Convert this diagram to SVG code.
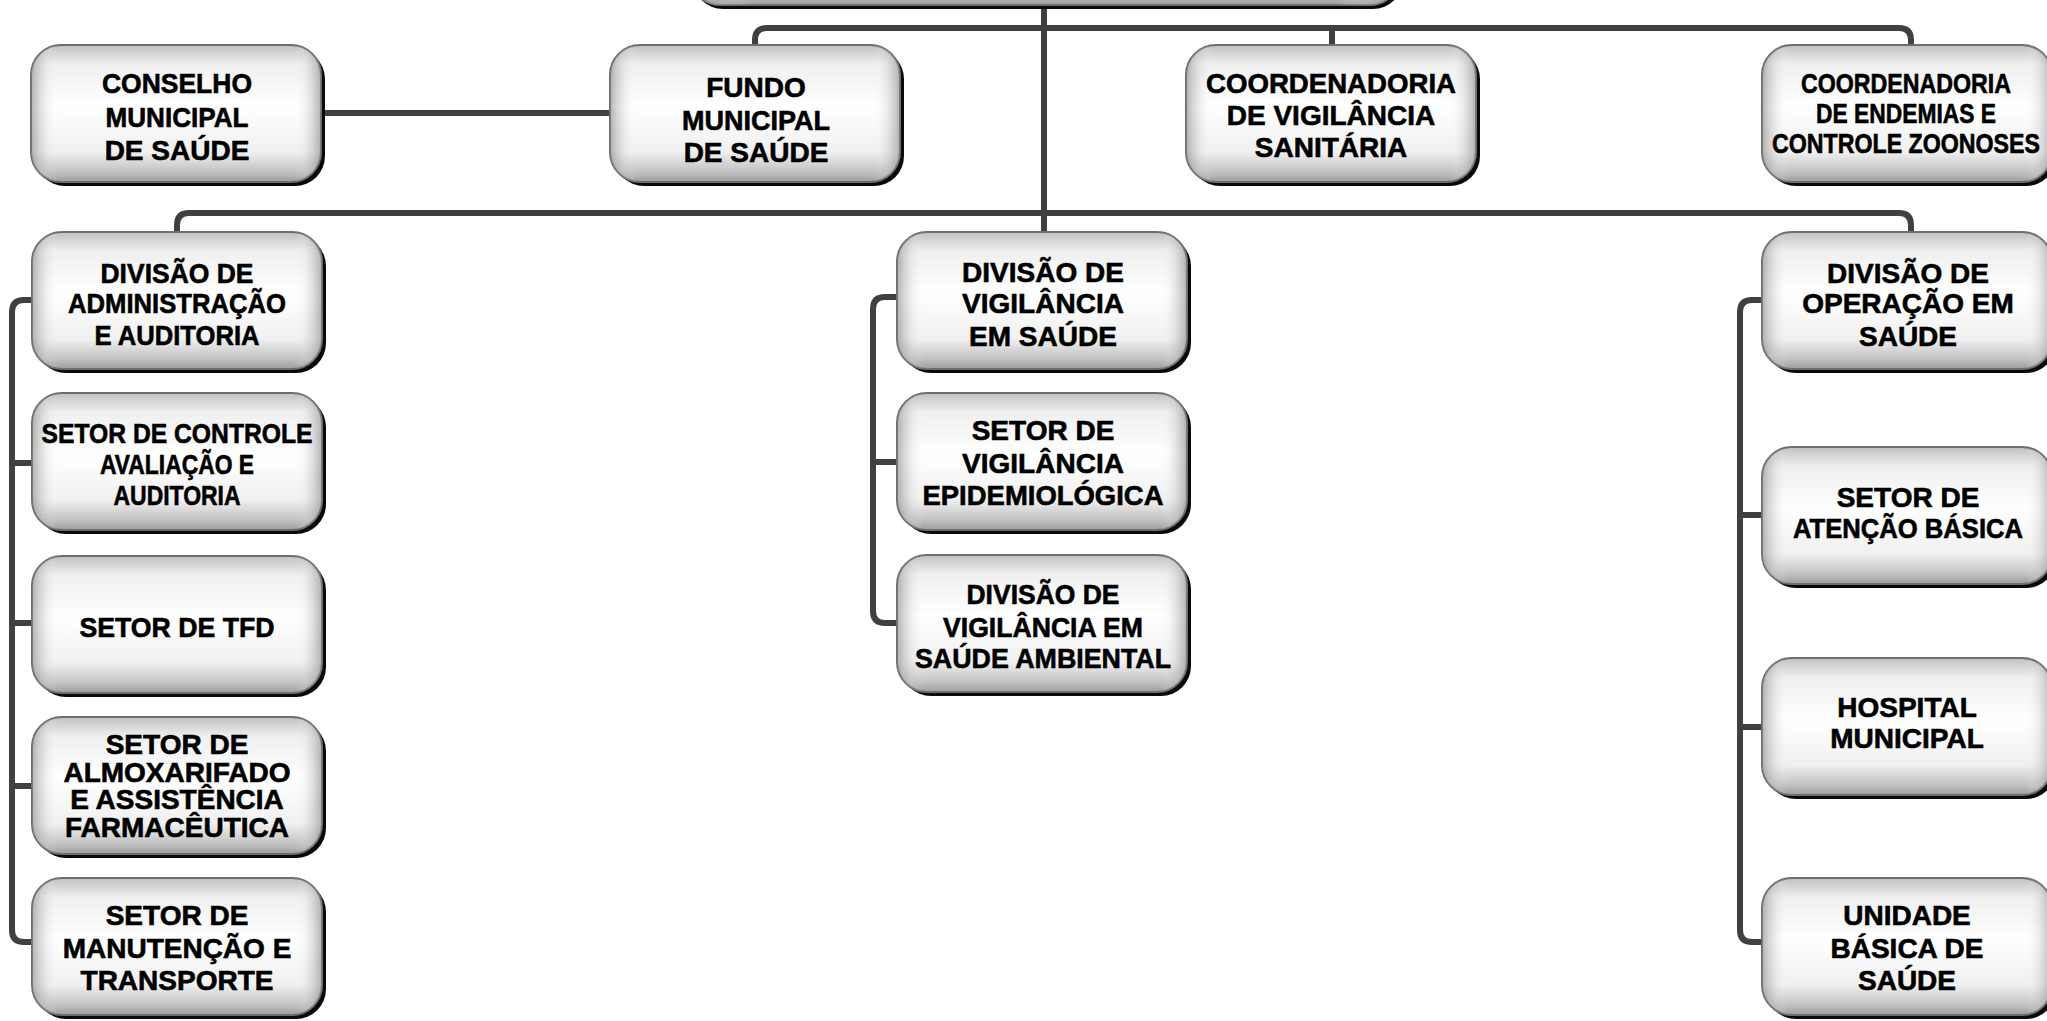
<svg xmlns="http://www.w3.org/2000/svg" width="2047" height="1021" viewBox="0 0 2047 1021">
<defs>
<linearGradient id="gv" x1="0" y1="0" x2="0" y2="1">
<stop offset="0" stop-color="#c0c0c0"/>
<stop offset="0.14" stop-color="#efefef"/>
<stop offset="0.45" stop-color="#ffffff"/>
<stop offset="0.78" stop-color="#f0f0f0"/>
<stop offset="0.92" stop-color="#c4c4c4"/>
<stop offset="1" stop-color="#9e9e9e"/>
</linearGradient>
<linearGradient id="gh" x1="0" y1="0" x2="1" y2="0">
<stop offset="0" stop-color="#808080" stop-opacity="0.6"/>
<stop offset="0.09" stop-color="#ffffff" stop-opacity="0"/>
<stop offset="0.91" stop-color="#ffffff" stop-opacity="0"/>
<stop offset="1" stop-color="#808080" stop-opacity="0.6"/>
</linearGradient>
</defs>
<style>
.sh{fill:#0a0a0a}
.bx{fill:url(#gv);stroke:#6e6e6e;stroke-width:2}
.hl{fill:url(#gh);stroke:none}
.t{font-family:"Liberation Sans",Arial,sans-serif;font-weight:bold;font-size:28px;fill:#000;stroke:#000;stroke-width:0.6;text-anchor:middle}
.c{fill:none;stroke:#404040;stroke-width:6}
</style>
<rect width="2047" height="1021" fill="#ffffff"/>

<g id="connectors">
<path class="c" d="M1044,5 V232"/>
<path class="c" d="M755,45 V40 Q755,28 767,28 H1899 Q1911,28 1911,40 V45"/>
<path class="c" d="M1332,28 V45"/>
<path class="c" d="M322,113 H610"/>
<path class="c" d="M177,232 V225 Q177,213 189,213 H1899 Q1911,213 1911,225 V232"/>
<path class="c" d="M32,300 H24 Q12,300 12,312 V930 Q12,942 24,942 H32"/>
<path class="c" d="M12,463 H32 M12,623 H32 M12,786 H32"/>
<path class="c" d="M897,297 H885 Q873,297 873,309 V611 Q873,623 885,623 H897"/>
<path class="c" d="M873,462 H897"/>
<path class="c" d="M1762,300 H1752 Q1740,300 1740,312 V930 Q1740,942 1752,942 H1762"/>
<path class="c" d="M1740,515 H1762 M1740,727 H1762"/>
</g>

<g id="n-root">
<rect class="sh" x="693" y="-131" width="710" height="140" rx="30"/>
<rect class="bx" x="690" y="-135" width="710" height="140" rx="30"/>
<rect class="hl" x="690" y="-135" width="710" height="140" rx="30"/>
</g>

<g id="n-conselho">
<rect class="sh" x="35" y="49" width="290" height="137" rx="30"/>
<rect class="bx" x="31" y="45" width="290" height="137" rx="30"/>
<rect class="hl" x="31" y="45" width="290" height="137" rx="30"/>
<text class="t" x="177" y="93" textLength="150" lengthAdjust="spacingAndGlyphs">CONSELHO</text>
<text class="t" x="177" y="127" textLength="143" lengthAdjust="spacingAndGlyphs">MUNICIPAL</text>
<text class="t" x="177" y="160">DE SAÚDE</text>
</g>

<g id="n-fundo">
<rect class="sh" x="614" y="49" width="290" height="137" rx="30"/>
<rect class="bx" x="610" y="45" width="290" height="137" rx="30"/>
<rect class="hl" x="610" y="45" width="290" height="137" rx="30"/>
<text class="t" x="756" y="97">FUNDO</text>
<text class="t" x="756" y="130" textLength="148" lengthAdjust="spacingAndGlyphs">MUNICIPAL</text>
<text class="t" x="756" y="162">DE SAÚDE</text>
</g>

<g id="n-vigsan">
<rect class="sh" x="1190" y="49" width="290" height="137" rx="30"/>
<rect class="bx" x="1186" y="45" width="290" height="137" rx="30"/>
<rect class="hl" x="1186" y="45" width="290" height="137" rx="30"/>
<text class="t" x="1331" y="93" textLength="250" lengthAdjust="spacingAndGlyphs">COORDENADORIA</text>
<text class="t" x="1331" y="125">DE VIGILÂNCIA</text>
<text class="t" x="1331" y="157">SANITÁRIA</text>
</g>

<g id="n-endemias">
<rect class="sh" x="1766" y="49" width="290" height="137" rx="30"/>
<rect class="bx" x="1762" y="45" width="290" height="137" rx="30"/>
<rect class="hl" x="1762" y="45" width="290" height="137" rx="30"/>
<text class="t" x="1906" y="93" textLength="210" lengthAdjust="spacingAndGlyphs">COORDENADORIA</text>
<text class="t" x="1906" y="123" textLength="180" lengthAdjust="spacingAndGlyphs">DE ENDEMIAS E</text>
<text class="t" x="1906" y="153" textLength="268" lengthAdjust="spacingAndGlyphs">CONTROLE ZOONOSES</text>
</g>

<g id="n-divadm">
<rect class="sh" x="36" y="236" width="290" height="137" rx="30"/>
<rect class="bx" x="32" y="232" width="290" height="137" rx="30"/>
<rect class="hl" x="32" y="232" width="290" height="137" rx="30"/>
<text class="t" x="177" y="283" textLength="153" lengthAdjust="spacingAndGlyphs">DIVISÃO DE</text>
<text class="t" x="177" y="313" textLength="218" lengthAdjust="spacingAndGlyphs">ADMINISTRAÇÃO</text>
<text class="t" x="177" y="345" textLength="165" lengthAdjust="spacingAndGlyphs">E AUDITORIA</text>
</g>

<g id="n-controle">
<rect class="sh" x="36" y="397" width="290" height="137" rx="30"/>
<rect class="bx" x="32" y="393" width="290" height="137" rx="30"/>
<rect class="hl" x="32" y="393" width="290" height="137" rx="30"/>
<text class="t" x="177" y="443" textLength="271" lengthAdjust="spacingAndGlyphs">SETOR DE CONTROLE</text>
<text class="t" x="177" y="474" textLength="154" lengthAdjust="spacingAndGlyphs">AVALIAÇÃO E</text>
<text class="t" x="177" y="505" textLength="127" lengthAdjust="spacingAndGlyphs">AUDITORIA</text>
</g>

<g id="n-tfd">
<rect class="sh" x="36" y="560" width="290" height="137" rx="30"/>
<rect class="bx" x="32" y="556" width="290" height="137" rx="30"/>
<rect class="hl" x="32" y="556" width="290" height="137" rx="30"/>
<text class="t" x="177" y="637" textLength="195" lengthAdjust="spacingAndGlyphs">SETOR DE TFD</text>
</g>

<g id="n-almox">
<rect class="sh" x="36" y="721" width="290" height="137" rx="30"/>
<rect class="bx" x="32" y="717" width="290" height="137" rx="30"/>
<rect class="hl" x="32" y="717" width="290" height="137" rx="30"/>
<text class="t" x="177" y="754">SETOR DE</text>
<text class="t" x="177" y="782">ALMOXARIFADO</text>
<text class="t" x="177" y="809">E ASSISTÊNCIA</text>
<text class="t" x="177" y="837">FARMACÊUTICA</text>
</g>

<g id="n-manut">
<rect class="sh" x="36" y="882" width="290" height="137" rx="30"/>
<rect class="bx" x="32" y="878" width="290" height="137" rx="30"/>
<rect class="hl" x="32" y="878" width="290" height="137" rx="30"/>
<text class="t" x="177" y="925">SETOR DE</text>
<text class="t" x="177" y="958">MANUTENÇÃO E</text>
<text class="t" x="177" y="990">TRANSPORTE</text>
</g>

<g id="n-divvig">
<rect class="sh" x="901" y="236" width="290" height="137" rx="30"/>
<rect class="bx" x="897" y="232" width="290" height="137" rx="30"/>
<rect class="hl" x="897" y="232" width="290" height="137" rx="30"/>
<text class="t" x="1043" y="282">DIVISÃO DE</text>
<text class="t" x="1043" y="313">VIGILÂNCIA</text>
<text class="t" x="1043" y="346">EM SAÚDE</text>
</g>

<g id="n-epid">
<rect class="sh" x="901" y="397" width="290" height="137" rx="30"/>
<rect class="bx" x="897" y="393" width="290" height="137" rx="30"/>
<rect class="hl" x="897" y="393" width="290" height="137" rx="30"/>
<text class="t" x="1043" y="440">SETOR DE</text>
<text class="t" x="1043" y="473">VIGILÂNCIA</text>
<text class="t" x="1043" y="505" textLength="241" lengthAdjust="spacingAndGlyphs">EPIDEMIOLÓGICA</text>
</g>

<g id="n-ambiental">
<rect class="sh" x="901" y="559" width="290" height="137" rx="30"/>
<rect class="bx" x="897" y="555" width="290" height="137" rx="30"/>
<rect class="hl" x="897" y="555" width="290" height="137" rx="30"/>
<text class="t" x="1043" y="604" textLength="153" lengthAdjust="spacingAndGlyphs">DIVISÃO DE</text>
<text class="t" x="1043" y="637" textLength="200" lengthAdjust="spacingAndGlyphs">VIGILÂNCIA EM</text>
<text class="t" x="1043" y="668" textLength="256" lengthAdjust="spacingAndGlyphs">SAÚDE AMBIENTAL</text>
</g>

<g id="n-divop">
<rect class="sh" x="1766" y="236" width="290" height="137" rx="30"/>
<rect class="bx" x="1762" y="232" width="290" height="137" rx="30"/>
<rect class="hl" x="1762" y="232" width="290" height="137" rx="30"/>
<text class="t" x="1908" y="283">DIVISÃO DE</text>
<text class="t" x="1908" y="313">OPERAÇÃO EM</text>
<text class="t" x="1908" y="346">SAÚDE</text>
</g>

<g id="n-atencao">
<rect class="sh" x="1766" y="451" width="290" height="137" rx="30"/>
<rect class="bx" x="1762" y="447" width="290" height="137" rx="30"/>
<rect class="hl" x="1762" y="447" width="290" height="137" rx="30"/>
<text class="t" x="1908" y="507">SETOR DE</text>
<text class="t" x="1908" y="538" textLength="230" lengthAdjust="spacingAndGlyphs">ATENÇÃO BÁSICA</text>
</g>

<g id="n-hospital">
<rect class="sh" x="1766" y="662" width="290" height="137" rx="30"/>
<rect class="bx" x="1762" y="658" width="290" height="137" rx="30"/>
<rect class="hl" x="1762" y="658" width="290" height="137" rx="30"/>
<text class="t" x="1907" y="717">HOSPITAL</text>
<text class="t" x="1907" y="748">MUNICIPAL</text>
</g>

<g id="n-ubs">
<rect class="sh" x="1766" y="882" width="290" height="137" rx="30"/>
<rect class="bx" x="1762" y="878" width="290" height="137" rx="30"/>
<rect class="hl" x="1762" y="878" width="290" height="137" rx="30"/>
<text class="t" x="1907" y="925">UNIDADE</text>
<text class="t" x="1907" y="958">BÁSICA DE</text>
<text class="t" x="1907" y="990">SAÚDE</text>
</g>
</svg>
